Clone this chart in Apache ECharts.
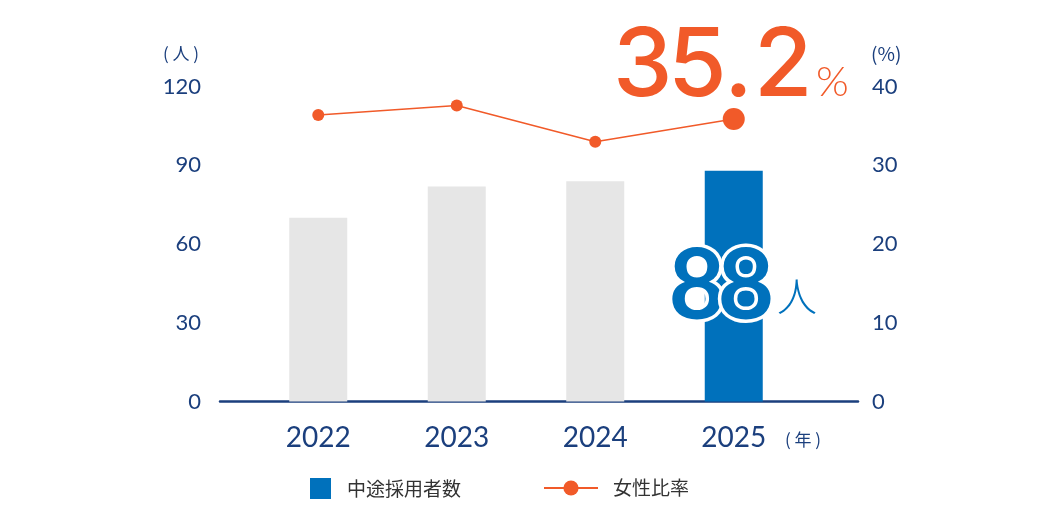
<!DOCTYPE html>
<html><head><meta charset="utf-8">
<script src="https://cdn.jsdelivr.net/npm/echarts@6/dist/echarts.min.js"></script>
<style>html,body{margin:0;padding:0;background:#fff}#c{width:1040px;height:506px}</style>
</head><body><div id="c"></div>
<script>
const categories = ['2022', '2023', '2024', '2025'];
const hires = [70, 82, 84, 88];
const femaleRatio = [36.4, 37.6, 33.0, 35.9];
const leftAxisTicks = [0, 30, 60, 90, 120];
const rightAxisTicks = [0, 10, 20, 30, 40];
const hiresLabel = '88';
const ratioLabel = '35.2';
const seriesNames = ['中途採用者数', '女性比率'];

const NAVY = '#1b3f7d', BLUE = '#0071bc', GRAY = '#e6e6e6', ORANGE = '#f15a29';
const NUM_FONT = 'Lato, "Noto Sans", sans-serif';
const BIG_FONT = 'Inter, Lato, sans-serif';
const CJK_FONT = '"Noto Sans CJK JP", sans-serif';
const last = categories.length - 1;

// layout of the big highlighted characters (text decoration, not data marks)
const ratioCharLeft = [613, 668, 724, 754];
const hiresCharLeft = [665, 714];

const graphics = [
  { type: 'text', left: 163, top: 45, style: { text: '( 人 )', fontSize: 17, fill: NAVY, fontFamily: CJK_FONT } },
  { type: 'text', left: 871, top: 44, style: { text: '(%)', fontSize: 19, fill: NAVY, fontFamily: CJK_FONT } },
  { type: 'text', left: 785, top: 431, style: { text: '( 年 )', fontSize: 17, fill: NAVY, fontFamily: CJK_FONT } },
  { type: 'text', left: 816, top: 61, style: { text: '%', fontSize: 42, fontWeight: 300, fill: ORANGE, fontFamily: NUM_FONT } },
  { type: 'text', left: 777, top: 276, style: { text: '人', fontSize: 40, fontWeight: 300, fill: BLUE, fontFamily: CJK_FONT } }
];
ratioLabel.split('').forEach((ch, i) => graphics.push({
  type: 'text', left: ratioCharLeft[i], top: 20,
  style: { text: ch, fontSize: 95, fontWeight: 500, fill: ORANGE, fontFamily: BIG_FONT }
}));
hiresLabel.split('').forEach((ch, i) => graphics.push({
  type: 'text', left: hiresCharLeft[i], top: 235, z: 100 + i,
  style: { text: ch, fontSize: 98, fontWeight: 'bold', fill: BLUE, stroke: '#fff', lineWidth: 7, strokeFirst: true, fontFamily: NUM_FONT }
}));

const chart = echarts.init(document.getElementById('c'));
chart.setOption({
  animation: false,
  backgroundColor: '#fff',
  grid: [
    { left: 249, right: 237, top: 86.7, bottom: 104.5 },
    { left: 220, right: 182, top: 86.7, bottom: 104.5 }
  ],
  legend: [
    { data: [seriesNames[0]], left: 310, top: 478, padding: 0, itemWidth: 21, itemHeight: 21,
      icon: 'rect',
      textStyle: { fontSize: 19, color: '#333', fontFamily: CJK_FONT, padding: [0, 0, 0, 11] } },
    { data: [seriesNames[1]], left: 543, top: 478.5, padding: 0, itemWidth: 54, itemHeight: 19,
      textStyle: { fontSize: 19, color: '#333', fontFamily: CJK_FONT, padding: [0, 0, 0, 10] } }
  ],
  xAxis: [
    { type: 'category', gridIndex: 0, data: categories,
      axisLine: { show: false }, axisTick: { show: false },
      axisLabel: { fontSize: 28, color: NAVY, fontFamily: NUM_FONT, margin: 22 } },
    { type: 'value', gridIndex: 1, min: 0, max: 1,
      axisLine: { show: true, lineStyle: { color: NAVY, width: 2.5 } },
      axisTick: { show: false }, axisLabel: { show: false }, splitLine: { show: false } }
  ],
  yAxis: [
    { type: 'value', gridIndex: 0, min: leftAxisTicks[0], max: leftAxisTicks[leftAxisTicks.length - 1],
      interval: leftAxisTicks[1] - leftAxisTicks[0],
      axisLine: { show: false }, axisTick: { show: false }, splitLine: { show: false },
      axisLabel: { fontSize: 22, color: NAVY, fontFamily: NUM_FONT, margin: 48 } },
    { type: 'value', gridIndex: 0, position: 'right',
      min: rightAxisTicks[0], max: rightAxisTicks[rightAxisTicks.length - 1],
      interval: rightAxisTicks[1] - rightAxisTicks[0],
      axisLine: { show: false }, axisTick: { show: false }, splitLine: { show: false },
      axisLabel: { fontSize: 22, color: NAVY, fontFamily: NUM_FONT, margin: 69 } },
    { type: 'value', gridIndex: 1, show: false }
  ],
  series: [
    { name: seriesNames[0], type: 'bar', xAxisIndex: 0, yAxisIndex: 0, barWidth: 58,
      itemStyle: { color: BLUE },
      data: hires.map((v, i) => i < last ? { value: v, itemStyle: { color: GRAY } } : v) },
    { name: seriesNames[1], type: 'line', xAxisIndex: 0, yAxisIndex: 1,
      symbol: 'circle',
      symbolSize: (v, p) => p.dataIndex === last ? 22 : 12,
      lineStyle: { color: ORANGE, width: 1.5 },
      itemStyle: { color: ORANGE },
      data: femaleRatio }
  ],
  graphic: graphics
});
</script></body></html>
